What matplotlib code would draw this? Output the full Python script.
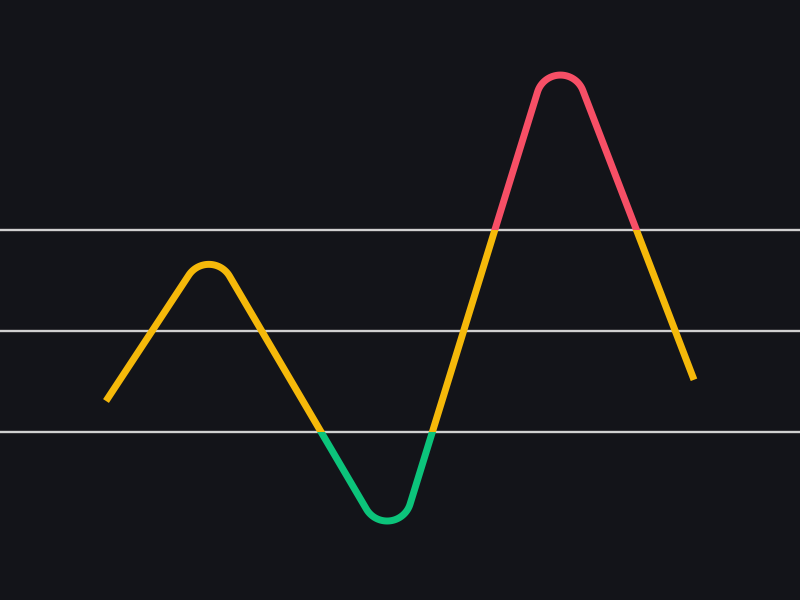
import numpy as np
import matplotlib
matplotlib.use('Agg')
import matplotlib.pyplot as plt
from matplotlib.patches import Rectangle

# oscillator values at the corners of the line (rounded off when drawn)
x_vals = [0, 13, 36, 56.5, 73.5]
y_vals = [36.1, 67.4, 5.4, 110.4, 40.3]

# threshold levels
levels = [30, 50, 70]
low, high = 30, 70

bg = '#131419'
c_mid = '#f5b90a'
c_high = '#f74f66'
c_low = '#0cc47b'

fig = plt.figure(figsize=(8, 6), dpi=100)
fig.patch.set_facecolor(bg)
ax = fig.add_axes([0, 0, 1, 1])
ax.set_facecolor(bg)
ax.set_xlim(-13.25, 86.75)
ax.set_ylim(-3.3, 115.5)
ax.axis('off')

for lv in levels:
    ax.axhline(lv, color='#d0d0d0', lw=1.7, zorder=1)

# round the corners in pixel space, radius ~24 px
sx = 800 / (86.75 + 13.25)
sy = 600 / (115.5 + 3.3)
pts = np.column_stack([np.array(x_vals) * sx, np.array(y_vals) * sy])
r = 24
path = [pts[0]]
for i in range(1, len(pts) - 1):
    p = pts[i]
    u1 = (pts[i - 1] - p) / np.linalg.norm(pts[i - 1] - p)
    u2 = (pts[i + 1] - p) / np.linalg.norm(pts[i + 1] - p)
    half = np.arccos(np.clip(np.dot(u1, u2), -1, 1)) / 2
    d = r / np.tan(half)
    t1 = p + u1 * d
    t2 = p + u2 * d
    bis = (u1 + u2) / np.linalg.norm(u1 + u2)
    c = p + bis * r / np.sin(half)
    a1 = np.arctan2(*(t1 - c)[::-1])
    a2 = np.arctan2(*(t2 - c)[::-1])
    da = (a2 - a1 + np.pi) % (2 * np.pi) - np.pi
    for a in np.linspace(a1, a1 + da, 40):
        path.append(c + r * np.array([np.cos(a), np.sin(a)]))
path.append(pts[-1])
path = np.array(path)
px = path[:, 0] / sx
py = path[:, 1] / sy

bands = [(-10, low, c_low), (low, high, c_mid), (high, 200, c_high)]
for y0, y1, col in bands:
    line, = ax.plot(px, py, color=col, lw=5, solid_capstyle='butt',
                    solid_joinstyle='round', zorder=2)
    clip = Rectangle((-20, y0), 120, y1 - y0, transform=ax.transData)
    line.set_clip_path(clip)

fig.savefig('out.png', dpi=100, facecolor=bg)
